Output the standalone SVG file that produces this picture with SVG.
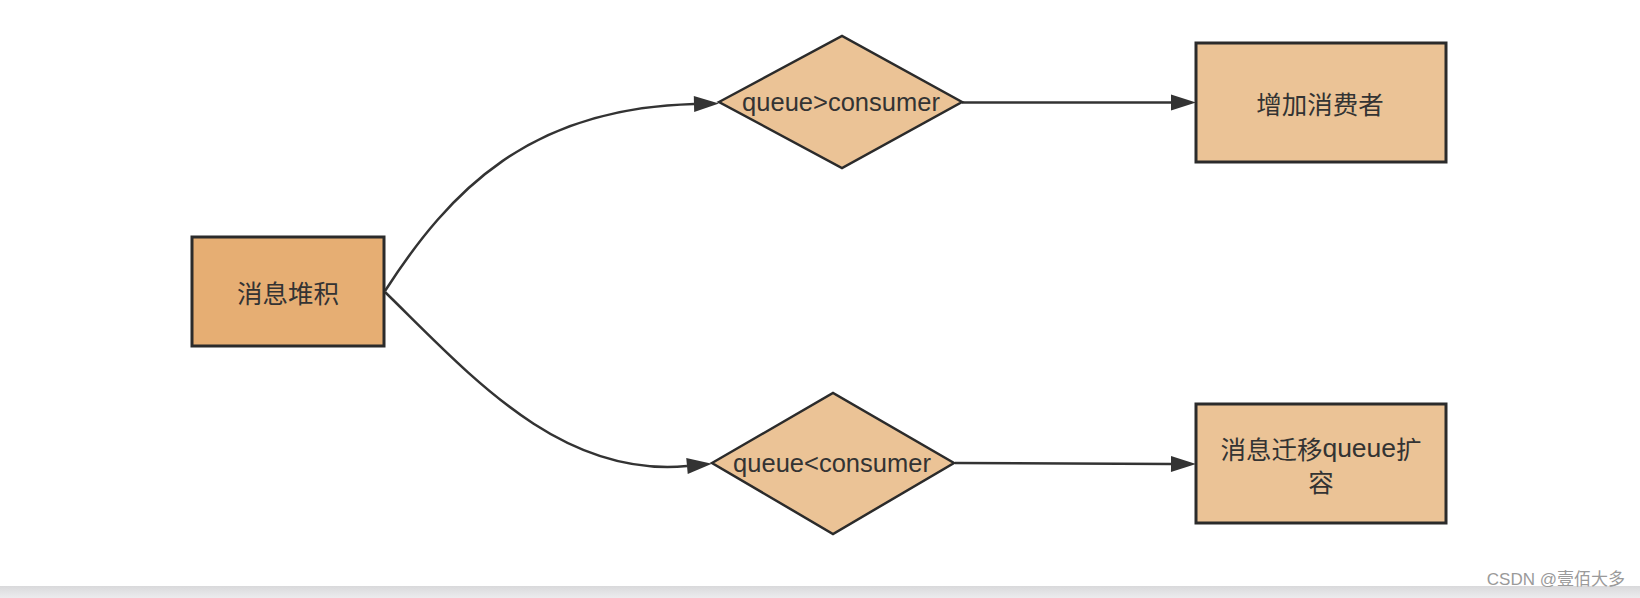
<svg xmlns="http://www.w3.org/2000/svg" width="1640" height="598" viewBox="0 0 1640 598">
  <defs>
    <marker id="arr" markerUnits="userSpaceOnUse" markerWidth="26" markerHeight="18" refX="0" refY="8" orient="auto" overflow="visible">
      <path d="M0,0 L25,8 L0,16 Z" fill="#333333"/>
    </marker>
    <linearGradient id="band" x1="0" y1="0" x2="0" y2="1">
      <stop offset="0" stop-color="#d9d9db"/>
      <stop offset="1" stop-color="#ececee"/>
    </linearGradient>
  </defs>
  <style>
    .box { stroke: #2b2b2b; stroke-width: 3; }
    .dia { stroke: #2b2b2b; stroke-width: 2.5; fill: #EBC396; }
    .lt { fill: #EBC396; }
    .dk { fill: #E6AE73; }
    .cjk { font-family: "Noto Sans CJK SC", "Liberation Sans", sans-serif; font-size: 25.5px; fill: #333333; text-anchor: middle; dominant-baseline: central; }
    .lat { font-family: "Liberation Sans", Arial, sans-serif; font-size: 25.5px; fill: #333333; text-anchor: middle; }
    .edge { fill: none; stroke: #333333; stroke-width: 2.5; marker-end: url(#arr); }
  </style>
  <rect x="0" y="0" width="1640" height="598" fill="#ffffff"/>

  <g id="connectors">
    <path class="edge" d="M385,291 C450,190 530,108 694,104"/>
    <path class="edge" d="M385,292 C470,375 560,478 687,466"/>
    <path class="edge" d="M962,102.5 L1171,102.5"/>
    <path class="edge" d="M955,463 L1171,464"/>
  </g>

  <g id="node-backlog">
    <rect class="box dk" x="192" y="237" width="192" height="109"/>
    <text class="cjk" x="288" y="291">消息堆积</text>
  </g>

  <g id="node-gt">
    <polygon class="dia" points="719,102 842,36 962,102 842,168"/>
    <text class="lat" x="841" y="111">queue&gt;consumer</text>
  </g>

  <g id="node-lt">
    <polygon class="dia" points="712,463 833,393 954,463 833,534"/>
    <text class="lat" x="832" y="472">queue&lt;consumer</text>
  </g>

  <g id="node-add">
    <rect class="box lt" x="1196" y="43" width="250" height="119"/>
    <text class="cjk" x="1320" y="102.5">增加消费者</text>
  </g>

  <g id="node-migrate">
    <rect class="box lt" x="1196" y="404" width="250" height="119"/>
    <text class="cjk" x="1321" y="447.5">消息迁移<tspan font-family="Liberation Sans, Arial, sans-serif" font-size="26.5px">queue</tspan>扩</text>
    <text class="cjk" x="1321" y="480">容</text>
  </g>

  <rect x="0" y="586" width="1640" height="12" fill="url(#band)"/>
  <text x="1625" y="585" font-family="Liberation Sans, Noto Sans CJK SC, sans-serif" font-size="17" fill="#9a9a9a" text-anchor="end">CSDN @壹佰大多</text>
</svg>
